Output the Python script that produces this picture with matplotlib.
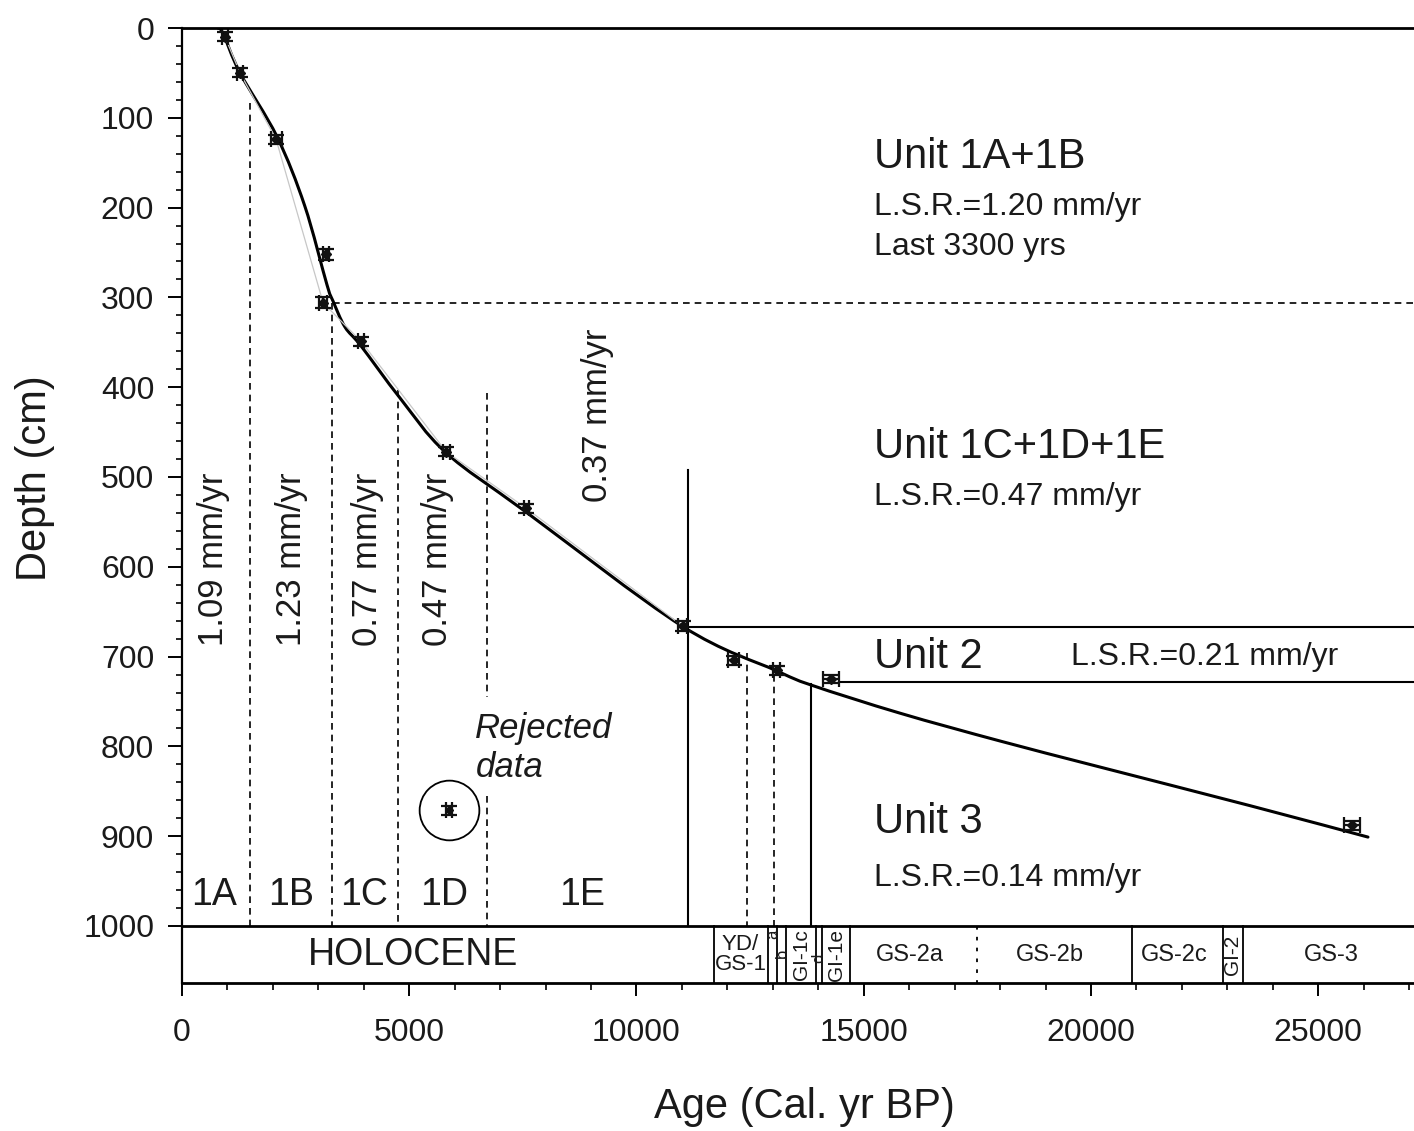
import numpy as np
import matplotlib
matplotlib.use('Agg')
import matplotlib.pyplot as plt
from matplotlib.path import Path
from matplotlib.patches import PathPatch

plt.rcParams['font.family'] = ['Liberation Sans', 'DejaVu Sans']

# dated levels (cal yr BP, depth cm)
ages = [947, 1277, 2070, 3170, 3105, 3940, 5815, 7577, 11013, 12137, 13084, 14273, 25749]
depths = [10, 50, 124, 252, 306, 349, 472, 535, 666, 704, 715, 725, 888]
age_err = [60, 60, 120, 60, 80, 60, 80, 60, 100, 120, 80, 180, 180]
depth_err = [5, 5, 5, 6, 6, 5, 5, 5, 6, 5, 5, 4, 5]
rej_age, rej_depth, rej_err = 5881, 871, 70

# age-depth model curve nodes
curve_age = [792, 902, 1276, 2090, 2700, 3190, 3322, 3586, 3938, 4796, 5809,
             7569, 11001, 13091, 13861, 15797, 17998,
             20198, 23498, 26094]
curve_depth = [0, 6, 50, 121, 198, 286, 304, 333, 354, 412, 473,
               539, 666, 716, 732, 763, 794,
               823, 866, 901]

# subunit boundaries (age, top depth)
sub_bounds = [(1500, 84), (3300, 306), (4760, 403)]
sub_labels = ['1A', '1B', '1C', '1D', '1E']
sub_label_x = [705, 2401, 4009, 5771, 8811]
rates = ['1.09 mm/yr', '1.23 mm/yr', '0.77 mm/yr', '0.47 mm/yr', '0.37 mm/yr']
rate_x = [683, 2401, 4075, 5617, 9141]
rate_y = [592, 592, 592, 592, 431]

# chronozones band
zone_edges = [11700, 12900, 13100, 13300, 13954, 14075, 14692, 20900, 22900, 23340]
zone_dotted = 17500
zone_names = ['HOLOCENE', 'YD/\nGS-1', 'GS-2a', 'GS-2b', 'GS-2c', 'GS-3']
zone_name_x = [5090, 12290, 16013, 19097, 21828, 25286]
zone_small = ['a', 'b', 'GI-1c', 'd', 'GI-1e', 'GI-2']
zone_small_x = [13000, 13200, 13630, 14010, 14390, 23110]
zone_small_y = [1009, 1031, 1032, 1036, 1032, 1032]

TXT = '#1a1a1a'
BAND_BOT = 1063.5


def smooth_path(xs, ys):
    # Catmull-Rom through the nodes, drawn as cubic Bezier segments
    pts = np.column_stack([xs, ys]).astype(float)
    verts = [pts[0]]
    codes = [Path.MOVETO]
    n = len(pts)
    for i in range(n - 1):
        p0 = pts[i - 1] if i > 0 else pts[i]
        p1, p2 = pts[i], pts[i + 1]
        p3 = pts[i + 2] if i + 2 < n else pts[i + 1]
        verts += [p1 + (p2 - p0) / 6, p2 - (p3 - p1) / 6, p2]
        codes += [Path.CURVE4] * 3
    return Path(verts, codes)


fig = plt.figure(figsize=(14.14, 11.31), dpi=100)
ax = fig.add_axes([182/1414, 1-983/1131, 1232/1414, 955/1131])
ax.set_xlim(0, 27107)
ax.set_ylim(BAND_BOT, 0)

# spines and ticks
ax.spines['right'].set_visible(False)
ax.spines['top'].set_linewidth(2)
ax.spines['bottom'].set_linewidth(2)
ax.spines['left'].set_linewidth(1.6)
ax.set_xticks(np.arange(0, 25001, 5000))
ax.set_xticks(np.arange(0, 27001, 1000), minor=True)
ax.set_yticks(np.arange(0, 1001, 100))
ax.set_yticks(np.arange(0, 1001, 20), minor=True)
ax.tick_params(axis='both', which='both', direction='out', colors='black',
               labelcolor=TXT, top=False, right=False)
ax.tick_params(axis='x', which='major', length=9, width=1.4, pad=16, labelsize=23)
ax.tick_params(axis='x', which='minor', length=5, width=1.2)
ax.tick_params(axis='y', which='major', length=10, width=1.4, pad=10, labelsize=23)
ax.tick_params(axis='y', which='minor', length=4, width=1.2)

fig.text(804/1414, 1-1107/1131, 'Age (Cal. yr BP)', fontsize=30, color=TXT,
         ha='center', va='center')
fig.text(35/1414, 1-478/1131, 'Depth (cm)', fontsize=30, color=TXT,
         ha='center', va='center', rotation=90)

# band
ax.axhline(1000, color='black', lw=2)
for e in zone_edges:
    ax.plot([e, e], [1000, BAND_BOT], color='black', lw=1.3)
ax.plot([zone_dotted]*2, [1000, BAND_BOT], color='black', lw=1.3, ls=(0, (2, 4)))
for name, x in zip(zone_names, zone_name_x):
    fs = 27 if name == 'HOLOCENE' else (16 if '/' in name else 17)
    ax.text(x, 1032, name, fontsize=fs, color=TXT, ha='center', va='center',
            linespacing=0.95)
for name, x, y in zip(zone_small, zone_small_x, zone_small_y):
    fs = 12 if len(name) == 1 else 15
    ax.text(x, y, name, fontsize=fs, color=TXT, ha='center', va='center', rotation=90)

# subunit dashed boundaries
dash = (0, (4, 3))
for a, top in sub_bounds:
    ax.plot([a, a], [top, 1000], color='black', lw=1.2, ls=dash)
ax.plot([6720, 6720], [406, 745], color='black', lw=1.2, ls=dash)
ax.plot([6720, 6720], [855, 1000], color='black', lw=1.2, ls=dash)
ax.plot([12440, 12440], [696, 1000], color='black', lw=1.2, ls=dash)
ax.plot([13020, 13020], [720, 1000], color='black', lw=1.2, ls=dash)
ax.plot([3330, 27107], [306, 306], color='black', lw=1.2, ls=dash)

# unit boundaries
ax.plot([11123, 11123], [492, 1000], color='black', lw=1.5)
ax.plot([11123, 27107], [667, 667], color='black', lw=1.5)
ax.plot([14450, 27107], [728, 728], color='black', lw=1.5)
ax.plot([13833, 13833], [730, 1000], color='black', lw=1.5)

# model and dates
keep = [0, 1, 2, 4, 5, 6, 7, 8]
ax.plot([ages[i] for i in keep], [depths[i] for i in keep], color='0.78', lw=0.9)
ax.add_patch(PathPatch(smooth_path(curve_age, curve_depth), fill=False,
                       edgecolor='black', lw=2.2, capstyle='round'))
ax.errorbar(ages, depths, xerr=age_err, yerr=depth_err, fmt='D', ms=5,
            color='#111111', ecolor='#111111', elinewidth=1.6, capsize=6, capthick=1.6)
ax.errorbar([rej_age], [rej_depth], xerr=[rej_err], yerr=[5], fmt='D', ms=4,
            color='#111111', elinewidth=1.6, capsize=6, capthick=1.6)
ax.plot([rej_age], [rej_depth], 'o', ms=43, mfc='none', mec='black', mew=1.3)

# labels
for lab, x in zip(sub_labels, sub_label_x):
    ax.text(x, 965, lab, fontsize=27, color=TXT, ha='center', va='center')
for lab, x, y in zip(rates, rate_x, rate_y):
    ax.text(x, y, lab, fontsize=25, color=TXT, ha='center', va='center', rotation=90)
ax.text(6454, 780, 'Rejected', fontsize=25, color=TXT, style='italic', va='center')
ax.text(6454, 824, 'data', fontsize=25, color=TXT, style='italic', va='center')

ux = 15220
ax.text(ux, 144, 'Unit 1A+1B', fontsize=30, color=TXT, va='center')
ax.text(ux, 199, 'L.S.R.=1.20 mm/yr', fontsize=23, color=TXT, va='center')
ax.text(ux, 244, 'Last 3300 yrs', fontsize=23, color=TXT, va='center')
ax.text(ux, 467, 'Unit 1C+1D+1E', fontsize=30, color=TXT, va='center')
ax.text(ux, 522, 'L.S.R.=0.47 mm/yr', fontsize=23, color=TXT, va='center')
ax.text(ux, 700, 'Unit 2', fontsize=30, color=TXT, va='center')
ax.text(19559, 700, 'L.S.R.=0.21 mm/yr', fontsize=23, color=TXT, va='center')
ax.text(ux, 884, 'Unit 3', fontsize=30, color=TXT, va='center')
ax.text(ux, 947, 'L.S.R.=0.14 mm/yr', fontsize=23, color=TXT, va='center')

fig.savefig('out.png', dpi=100, facecolor='white')
